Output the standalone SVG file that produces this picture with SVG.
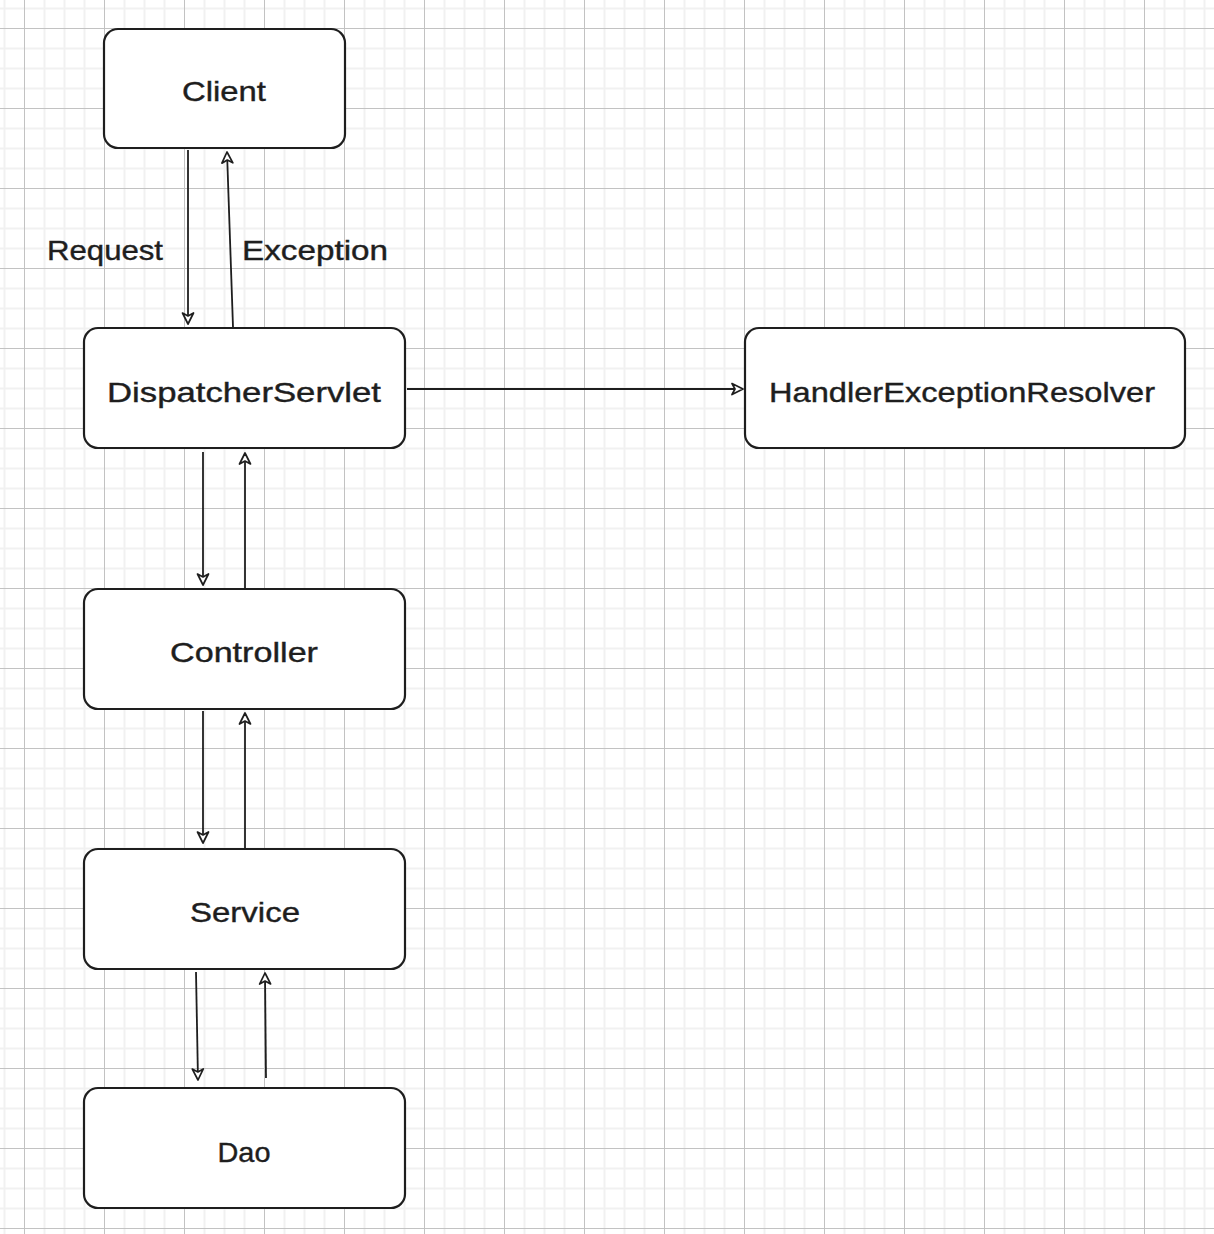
<svg xmlns="http://www.w3.org/2000/svg" width="1214" height="1234" viewBox="0 0 1214 1234">
<style>
.box{fill:#ffffff;stroke:#1e1e1e;stroke-width:2.2}
.lbl{font-family:"Liberation Sans",Arial,sans-serif;font-size:28px;fill:#1e1e1e;text-anchor:middle;stroke:#1e1e1e;stroke-width:0.4}
.edge{fill:none;stroke:#1e1e1e;stroke-width:1.8;marker-end:url(#ah)}
.elbl{font-family:"Liberation Sans",Arial,sans-serif;font-size:28px;fill:#1e1e1e;stroke:#1e1e1e;stroke-width:0.4}
</style>
<defs>
<pattern id="grid" patternUnits="userSpaceOnUse" x="24" y="28" width="80" height="80">
<rect x="19.5" y="0" width="2" height="80" fill="#f1f1f1"/>
<rect x="39.5" y="0" width="2" height="80" fill="#f1f1f1"/>
<rect x="59.5" y="0" width="2" height="80" fill="#f1f1f1"/>
<rect x="0" y="19.5" width="80" height="2" fill="#f1f1f1"/>
<rect x="0" y="39.5" width="80" height="2" fill="#f1f1f1"/>
<rect x="0" y="59.5" width="80" height="2" fill="#f1f1f1"/>
<rect x="0" y="0" width="1" height="80" fill="#c2c2c2"/>
<rect x="0" y="0" width="80" height="1" fill="#c2c2c2"/>
</pattern>
<marker id="ah" markerWidth="16" markerHeight="16" refX="13" refY="8" orient="auto" markerUnits="userSpaceOnUse">
<path d="M2,2.5 L13,8 L2,13.5 L5,8 Z" fill="#ffffff" stroke="#1e1e1e" stroke-width="1.7" stroke-linejoin="round"/>
</marker>
</defs>
<rect width="1214" height="1234" fill="#ffffff"/>
<rect width="1214" height="1234" fill="url(#grid)"/>

<g id="connectors">
<path class="edge" d="M188,150 L188,324"/>
<path class="edge" d="M233,327 L227,152"/>
<path class="edge" d="M407,389 L743,389"/>
<path class="edge" d="M203,452 L203,585"/>
<path class="edge" d="M245,588 L245,453"/>
<path class="edge" d="M203,711 L203,843"/>
<path class="edge" d="M245,848 L245,713"/>
<path class="edge" d="M196,972 L198,1080"/>
<path class="edge" d="M266,1078 L265,973"/>
<text class="elbl" x="47" y="260" textLength="116" lengthAdjust="spacingAndGlyphs">Request</text>
<text class="elbl" x="242" y="260" textLength="146" lengthAdjust="spacingAndGlyphs">Exception</text>
</g>

<g id="client">
<rect class="box" x="104" y="29" width="241" height="119" rx="14"/>
<text class="lbl" x="224" y="101" textLength="84" lengthAdjust="spacingAndGlyphs">Client</text>
</g>
<g id="dispatcherservlet">
<rect class="box" x="84" y="328" width="321" height="120" rx="14"/>
<text class="lbl" x="244" y="402" textLength="274" lengthAdjust="spacingAndGlyphs">DispatcherServlet</text>
</g>
<g id="handlerexceptionresolver">
<rect class="box" x="745" y="328" width="440" height="120" rx="14"/>
<text class="lbl" x="962" y="402" textLength="386" lengthAdjust="spacingAndGlyphs">HandlerExceptionResolver</text>
</g>
<g id="controller">
<rect class="box" x="84" y="589" width="321" height="120" rx="14"/>
<text class="lbl" x="244" y="662" textLength="148" lengthAdjust="spacingAndGlyphs">Controller</text>
</g>
<g id="service">
<rect class="box" x="84" y="849" width="321" height="120" rx="14"/>
<text class="lbl" x="245" y="922" textLength="110" lengthAdjust="spacingAndGlyphs">Service</text>
</g>
<g id="dao">
<rect class="box" x="84" y="1088" width="321" height="120" rx="14"/>
<text class="lbl" x="244" y="1162" textLength="53" lengthAdjust="spacingAndGlyphs">Dao</text>
</g>
</svg>
